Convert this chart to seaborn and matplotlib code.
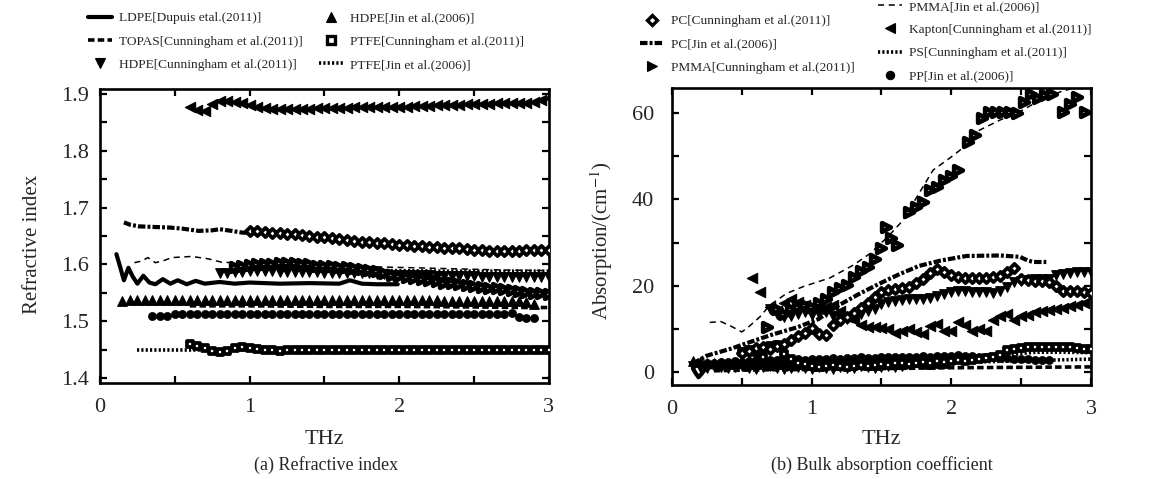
import matplotlib
matplotlib.use("Agg")
import matplotlib.pyplot as plt
from matplotlib.lines import Line2D
import seaborn as sns

sns.set_style("ticks")
plt.rcParams["font.family"] = ["Liberation Serif", "DejaVu Serif"]
plt.rcParams["mathtext.fontset"] = "stix"

# ---------------- data ----------------
FREQ = [0.10, 0.15, 0.20, 0.25, 0.30, 0.35, 0.40, 0.45, 0.50, 0.55,
        0.60, 0.65, 0.70, 0.75, 0.80, 0.85, 0.90, 0.95, 1.00, 1.05,
        1.10, 1.15, 1.20, 1.25, 1.30, 1.35, 1.40, 1.45, 1.50, 1.55,
        1.60, 1.65, 1.70, 1.75, 1.80, 1.85, 1.90, 1.95, 2.00, 2.05,
        2.10, 2.15, 2.20, 2.25, 2.30, 2.35, 2.40, 2.45, 2.50, 2.55,
        2.60, 2.65, 2.70, 2.75, 2.80, 2.85, 2.90, 2.95, 3.00]

# ---- (a) refractive index ----
ldpe_n_x = [0.11, 0.13, 0.16, 0.19, 0.22, 0.25, 0.29, 0.33, 0.37, 0.42, 0.47, 0.52, 0.58,
            0.64, 0.70, 0.80, 0.90, 1.00, 1.20, 1.40, 1.60, 1.67, 1.75, 1.85, 1.99]
ldpe_n_y = [1.618, 1.600, 1.572, 1.594, 1.578, 1.566, 1.580, 1.568, 1.565, 1.574, 1.566, 1.572, 1.565,
            1.571, 1.566, 1.569, 1.566, 1.568, 1.566, 1.567, 1.566, 1.572, 1.566, 1.565, 1.565]

topas_n_x = [0.60, 1.00, 1.50, 2.00, 2.50, 2.85, 3.00]
topas_n_y = [1.527, 1.527, 1.526, 1.526, 1.525, 1.524, 1.524]

hdpe_c_n_start = 0.80
hdpe_c_n = [1.584, 1.585, 1.586, 1.587, 1.588, 1.588, 1.588, 1.588, 1.587, 1.587,
            1.587, 1.586, 1.586, 1.586, 1.585, 1.585, 1.585, 1.585, 1.584, 1.584,
            1.584, 1.583, 1.583, 1.582, 1.582, 1.582, 1.581, 1.581, 1.581, 1.580,
            1.580, 1.580, 1.579, 1.579, 1.579, 1.578, 1.578, 1.578, 1.578, 1.577,
            1.577, 1.577, 1.577, 1.577, 1.577]

hdpe_j_n_start = 0.15
hdpe_j_n = [1.536, 1.537, 1.537, 1.537, 1.537, 1.537, 1.537, 1.537, 1.537, 1.537,
            1.537, 1.537, 1.537, 1.537, 1.537, 1.537, 1.537, 1.537, 1.537, 1.537,
            1.537, 1.537, 1.537, 1.537, 1.537, 1.537, 1.537, 1.537, 1.537, 1.537,
            1.537, 1.537, 1.537, 1.537, 1.537, 1.537, 1.537, 1.537, 1.537, 1.537,
            1.537, 1.537, 1.537, 1.536, 1.536, 1.536, 1.536, 1.536, 1.536, 1.536,
            1.536, 1.536, 1.535, 1.535, 1.534, 1.531]

ptfe_c_n_start = 0.60
ptfe_c_n = [1.459, 1.456, 1.452, 1.448, 1.446, 1.447, 1.452, 1.454, 1.453, 1.451,
            1.450, 1.449, 1.448, 1.449, 1.449, 1.449, 1.449, 1.449, 1.449, 1.449,
            1.449, 1.449, 1.449, 1.449, 1.449, 1.449, 1.449, 1.449, 1.449, 1.449,
            1.449, 1.449, 1.449, 1.449, 1.449, 1.449, 1.449, 1.449, 1.449, 1.449,
            1.449, 1.449, 1.449, 1.449, 1.449, 1.450, 1.450, 1.450, 1.450]

ptfe_j_n_x = [0.25, 0.40, 0.60, 0.80, 1.00, 2.00, 3.00]
ptfe_j_n_y = [1.449, 1.449, 1.449, 1.449, 1.449, 1.449, 1.449]

pc_c_n_start = 1.00
pc_c_n = [1.659, 1.658, 1.657, 1.656, 1.655, 1.654, 1.653, 1.651, 1.650, 1.649,
          1.648, 1.646, 1.645, 1.643, 1.642, 1.640, 1.639, 1.638, 1.637, 1.636,
          1.635, 1.634, 1.633, 1.632, 1.631, 1.630, 1.629, 1.629, 1.628, 1.627,
          1.626, 1.625, 1.624, 1.623, 1.623, 1.624, 1.624, 1.625, 1.625, 1.626, 1.626]

pc_j_n_x = [0.16, 0.20, 0.26, 0.35, 0.46, 0.55, 0.66, 0.75, 0.80, 0.88, 0.95, 1.05,
            1.30, 1.60, 1.90, 2.20, 2.50, 2.70]
pc_j_n_y = [1.674, 1.670, 1.667, 1.666, 1.665, 1.663, 1.659, 1.660, 1.662, 1.659, 1.656, 1.655,
            1.650, 1.643, 1.635, 1.629, 1.625, 1.623]

pmma_c_n_start = 0.90
pmma_c_n = [1.596, 1.598, 1.599, 1.600, 1.601, 1.601, 1.602, 1.603, 1.602, 1.601,
            1.600, 1.598, 1.597, 1.597, 1.596, 1.595, 1.594, 1.592, 1.590, 1.588,
            1.585, 1.582, 1.580, 1.578, 1.576, 1.574, 1.572, 1.570, 1.568, 1.567,
            1.565, 1.564, 1.562, 1.561, 1.559, 1.558, 1.556, 1.555, 1.553, 1.552,
            1.550, 1.549, 1.547]

pmma_j_n_x = [0.23, 0.28, 0.32, 0.37, 0.42, 0.48, 0.55, 0.61, 0.72, 0.81, 0.96,
              1.20, 1.50, 1.80, 2.10, 2.40, 2.70, 3.00]
pmma_j_n_y = [1.603, 1.606, 1.612, 1.603, 1.606, 1.612, 1.613, 1.614, 1.610, 1.604, 1.602,
              1.600, 1.598, 1.596, 1.594, 1.592, 1.590, 1.589]

kapton_n_start = 0.60
kapton_n = [1.877, 1.872, 1.870, 1.882, 1.887, 1.888, 1.886, 1.884, 1.881, 1.878,
            1.876, 1.874, 1.873, 1.873, 1.873, 1.874, 1.874, 1.875, 1.875, 1.876,
            1.876, 1.876, 1.877, 1.877, 1.877, 1.877, 1.878, 1.878, 1.878, 1.878,
            1.879, 1.879, 1.879, 1.880, 1.880, 1.881, 1.881, 1.882, 1.882, 1.883,
            1.883, 1.884, 1.884, 1.884, 1.885, 1.885, 1.886, 1.890, 1.894]

ps_c_n_x = [0.90, 1.50, 1.96, 2.30, 2.60, 3.00]
ps_c_n_y = [1.594, 1.592, 1.589, 1.588, 1.588, 1.588]

pp_j_n_start = 0.35
pp_j_n = [1.509, 1.509, 1.509, 1.512, 1.512, 1.512, 1.512, 1.512, 1.512, 1.512,
          1.512, 1.512, 1.512, 1.512, 1.512, 1.512, 1.512, 1.512, 1.512, 1.512,
          1.512, 1.512, 1.512, 1.512, 1.512, 1.512, 1.512, 1.512, 1.512, 1.512,
          1.512, 1.512, 1.512, 1.512, 1.512, 1.512, 1.512, 1.512, 1.512, 1.512,
          1.512, 1.512, 1.512, 1.512, 1.512, 1.512, 1.512, 1.512, 1.514, 1.507,
          1.506, 1.506]

# ---- (b) absorption coefficient ----
ldpe_a_x = [0.15, 0.17, 0.19, 0.21, 0.24, 0.28, 0.35, 0.45, 0.55, 0.70, 0.85, 1.00,
            1.20, 1.40, 1.60, 1.80, 2.00]
ldpe_a_y = [0.8, -0.3, -1.2, -0.5, 0.8, 1.2, 1.0, 1.3, 1.1, 1.4, 1.2, 1.5,
            1.6, 1.9, 2.1, 2.4, 2.6]

topas_a_x = [0.30, 0.60, 1.00, 1.50, 2.00, 2.50, 3.00]
topas_a_y = [0.3, 0.5, 0.6, 0.8, 1.0, 1.1, 1.2]

hdpe_c_a_lo_start = 0.15
hdpe_c_a_lo = [1.5, 1.2, 1.0, 1.3, 1.1, 0.9, 1.2, 1.4, 1.0, 0.8,
               1.1, 1.3, 0.9, 0.7, 1.0, 1.2, 0.9, 0.8, 1.1, 1.0,
               0.8, 1.2, 1.0, 0.9, 1.3, 1.1, 0.9, 1.2, 1.4, 1.1, 1.3]
hdpe_c_a_hi_start = 0.70
hdpe_c_a_hi = [14.6, 13.5, 12.7, 13.0, 13.5, 13.8, 13.2, 13.5, 14.0, 13.0,
               12.5, 12.3, 12.7, 13.5, 14.2, 14.6, 15.8, 16.3, 16.5, 16.8,
               17.0, 16.9, 16.9, 17.2, 17.7, 18.0, 18.5, 18.8, 18.8, 18.6,
               18.5, 18.5, 18.2, 18.8, 19.6, 20.8, 21.2, 21.3, 21.5, 21.6,
               21.5, 22.5, 22.7, 23.0, 23.1, 23.1, 23.1]

hdpe_j_a_start = 0.15
hdpe_j_a = [2.6, 2.4, 2.2, 2.0, 2.1, 1.9, 2.0, 2.2, 1.8, 1.9,
            2.1, 1.7, 1.8, 2.0, 1.6, 1.8, 1.9, 1.7, 1.5, 1.8,
            2.0, 1.7, 1.6, 1.9, 2.1, 1.8, 1.7, 2.0, 2.2, 1.9,
            1.8, 2.1, 2.3, 2.0, 1.9, 2.2, 2.0]

ptfe_c_a_start = 0.50
ptfe_c_a = [4.6, 5.0, 4.6, 3.5, 6.0, 6.2, 4.2, 3.0, 2.2, 1.8,
            1.5, 1.2, 1.4, 1.6, 1.3, 1.1, 1.5, 1.7, 1.4, 1.6,
            1.9, 1.7, 2.0, 2.2, 1.9, 2.1, 2.4, 2.2, 2.5, 2.3,
            2.6, 2.8, 2.6, 2.9, 3.0, 3.2, 3.5, 4.0, 5.0, 5.4,
            5.5, 5.8, 5.8, 5.9, 5.9, 5.8, 5.8, 5.7, 5.6, 5.4, 5.3]

ptfe_j_a_x = [0.25, 0.50, 1.00, 1.50, 2.00, 2.50, 3.00]
ptfe_j_a_y = [1.0, 1.2, 1.5, 1.8, 2.2, 2.6, 3.0]

pc_c_a_start = 0.50
pc_c_a = [4.4, 4.8, 5.6, 5.8, 5.4, 6.0, 6.5, 7.5, 8.3, 9.0,
          10.2, 8.8, 8.5, 11.0, 12.0, 12.8, 13.6, 14.8, 16.0, 17.4,
          18.5, 19.0, 19.2, 19.4, 19.8, 20.6, 21.6, 23.0, 23.8, 23.2,
          22.5, 22.1, 21.9, 21.9, 21.9, 21.9, 22.0, 22.3, 23.2, 24.2,
          21.6, 21.3, 21.2, 21.0, 20.8, 20.0, 18.8, 18.8, 18.8, 18.6, 18.2]

pc_j_a_x = [0.15, 0.25, 0.42, 0.59, 0.73, 0.90, 1.05, 1.19, 1.34, 1.48, 1.63, 1.77,
            1.92, 2.11, 2.35, 2.49, 2.55, 2.59, 2.68]
pc_j_a_y = [2.0, 3.8, 5.4, 7.3, 8.8, 10.4, 12.3, 15.4, 18.1, 20.4, 22.7, 24.6,
            25.8, 26.9, 27.0, 26.7, 25.8, 25.5, 25.5]

pmma_c_a_x = [0.68, 0.75, 0.80, 0.85, 0.90, 0.95, 1.00, 1.05, 1.10, 1.15,
              1.20, 1.25, 1.30, 1.35, 1.40, 1.45, 1.50, 1.53, 1.57, 1.61,
              1.70, 1.75, 1.80, 1.85, 1.90, 1.95, 2.00, 2.05, 2.12, 2.17,
              2.22, 2.27, 2.32, 2.37, 2.42, 2.47, 2.52, 2.57, 2.62, 2.67,
              2.72, 2.80, 2.85, 2.90, 2.96]
pmma_c_a_y = [10.5, 14.5, 13.5, 14.5, 15.0, 15.5, 15.0, 16.0, 17.0, 18.6,
              19.5, 20.1, 22.0, 23.5, 24.3, 26.3, 28.8, 33.7, 31.0, 29.4,
              37.1, 38.3, 39.4, 42.2, 42.9, 44.5, 45.5, 46.8, 53.3, 54.9,
              58.8, 60.3, 60.3, 60.3, 60.3, 60.0, 62.6, 64.5, 63.4, 64.2,
              64.5, 60.3, 62.2, 63.8, 60.3]

pmma_j_a_x = [0.27, 0.35, 0.43, 0.50, 0.55, 0.63, 0.70, 0.82, 0.94, 1.13, 1.30, 1.42,
              1.55, 1.65, 1.78, 1.87, 1.99, 2.11, 2.20, 2.35, 2.51, 2.66, 2.78, 2.95]
pmma_j_a_y = [11.5, 11.7, 10.5, 9.3, 10.5, 12.8, 15.5, 18.2, 19.8, 21.8, 24.8, 27.5,
              31.5, 35.0, 42.0, 46.8, 49.6, 52.6, 56.0, 58.4, 60.7, 63.4, 64.9, 66.5]

kapton_a_x = [0.57, 0.63, 0.70, 0.75, 0.80, 0.85, 0.90, 0.95, 1.00, 1.05,
              1.10, 1.15, 1.20, 1.25, 1.30, 1.35, 1.40, 1.45, 1.50, 1.55,
              1.60, 1.65, 1.70, 1.75, 1.80, 1.85, 1.90, 1.95, 2.00, 2.05,
              2.10, 2.15, 2.20, 2.25, 2.30, 2.35, 2.40, 2.45, 2.50, 2.55,
              2.60, 2.65, 2.70, 2.75, 2.80, 2.85, 2.90, 2.95]
kapton_a_y = [21.9, 18.5, 15.0, 14.2, 16.0, 16.9, 16.2, 15.5, 15.0, 14.5,
              15.0, 15.5, 14.2, 12.7, 12.0, 11.0, 10.5, 10.4, 10.2, 9.9,
              9.0, 9.6, 9.9, 9.3, 8.8, 10.7, 11.2, 9.5, 9.4, 11.5,
              10.8, 9.4, 10.0, 9.6, 12.0, 13.0, 13.5, 12.0, 13.0, 13.3,
              14.0, 14.2, 14.4, 14.6, 14.8, 15.2, 15.6, 16.0]

ps_c_a_x = [0.20, 0.50, 1.00, 1.50, 2.00, 2.40, 2.50, 2.60, 2.80, 3.00]
ps_c_a_y = [1.5, 2.0, 2.5, 3.0, 3.3, 3.8, 4.3, 4.6, 4.6, 4.5]

pp_j_a_start = 0.20
pp_j_a = [2.0, 2.1, 2.2, 2.3, 2.4, 2.5, 2.4, 2.6, 2.7, 2.6,
          2.8, 2.7, 2.9, 2.8, 3.0, 2.9, 3.0, 3.1, 3.0, 3.2,
          3.1, 3.3, 3.2, 3.4, 3.3, 3.2, 3.4, 3.5, 3.4, 3.6,
          3.5, 3.6, 3.7, 3.6, 3.8, 3.7, 3.8, 3.9, 3.8, 3.7,
          3.6, 3.5, 3.4, 3.3, 3.2, 3.1, 3.0, 3.0, 2.9, 2.9, 2.8]

LABELS = {
    "ldpe": "LDPE[Dupuis etal.(2011)]",
    "topas": "TOPAS[Cunningham et al.(2011)]",
    "hdpe_c": "HDPE[Cunningham et al.(2011)]",
    "hdpe_j": "HDPE[Jin et al.(2006)]",
    "ptfe_c": "PTFE[Cunningham et al.(2011)]",
    "ptfe_j": "PTFE[Jin et al.(2006)]",
    "pc_c": "PC[Cunningham et al.(2011)]",
    "pc_j": "PC[Jin et al.(2006)]",
    "pmma_c": "PMMA[Cunningham et al.(2011)]",
    "pmma_j": "PMMA[Jin et al.(2006)]",
    "kapton": "Kapton[Cunningham et al.(2011)]",
    "ps_c": "PS[Cunningham et al.(2011)]",
    "pp_j": "PP[Jin et al.(2006)]",
}


def on_grid(start, values):
    keys = [round(f, 2) for f in FREQ]
    i = keys.index(round(start, 2))
    return FREQ[i:i + len(values)]


# ---------------- styles ----------------
K = "black"
LINE = {
    "ldpe": dict(lw=3.0, ls="-"),
    "topas": dict(lw=2.6, ls=(0, (1.8, 0.9))),
    "ptfe_j": dict(lw=2.6, ls=(0, (0.6, 0.6))),
    "ps_c": dict(lw=2.6, ls=(0, (0.6, 0.6))),
    "pc_j": dict(lw=3.0, ls=(0, (1.8, 0.5, 0.7, 0.5))),
    "pmma_j": dict(lw=1.1, ls=(0, (4.0, 3.0))),
}
MARK = {
    "hdpe_c": dict(marker="v", s=48, color=K, edgecolor=K, linewidth=0.8),
    "hdpe_j": dict(marker="^", s=48, color=K, edgecolor=K, linewidth=0.8),
    "ptfe_c": dict(marker="s", s=22, color="white", edgecolor=K, linewidth=2.7),
    "pc_c": dict(marker="D", s=22, color="white", edgecolor=K, linewidth=2.7),
    "pmma_c": dict(marker=">", s=40, color="white", edgecolor=K, linewidth=3.3),
    "kapton": dict(marker="<", s=55, color=K, edgecolor=K, linewidth=0.8),
    "pp_j": dict(marker="o", s=34, color=K, edgecolor=K, linewidth=0.5),
}
LEG_MS = {"hdpe_c": 7.5, "hdpe_j": 7.5, "ptfe_c": 5.5, "pc_c": 5.5,
          "pmma_c": 7.5, "kapton": 7.5, "pp_j": 6.0}


def line(ax, key, x, y):
    sns.lineplot(x=x, y=y, ax=ax, color=K, sort=False, estimator=None,
                 linewidth=LINE[key]["lw"], linestyle=LINE[key]["ls"], zorder=2)


def mark(ax, key, x, y):
    sns.scatterplot(x=x, y=y, ax=ax, zorder=3, legend=False, **MARK[key])


fig = plt.figure(figsize=(11.61, 4.79), dpi=100)
ax1 = fig.add_axes([0.0861, 0.2004, 0.3867, 0.6138])
ax2 = fig.add_axes([0.5788, 0.1962, 0.3609, 0.6201])

# ---- panel (a)
line(ax1, "ptfe_j", ptfe_j_n_x, ptfe_j_n_y)
line(ax1, "topas", topas_n_x, topas_n_y)
line(ax1, "pc_j", pc_j_n_x, pc_j_n_y)
line(ax1, "pmma_j", pmma_j_n_x, pmma_j_n_y)
line(ax1, "ps_c", ps_c_n_x, ps_c_n_y)
line(ax1, "ldpe", ldpe_n_x, ldpe_n_y)
mark(ax1, "kapton", on_grid(kapton_n_start, kapton_n), kapton_n)
mark(ax1, "pc_c", on_grid(pc_c_n_start, pc_c_n), pc_c_n)
mark(ax1, "hdpe_c", on_grid(hdpe_c_n_start, hdpe_c_n), hdpe_c_n)
mark(ax1, "pmma_c", on_grid(pmma_c_n_start, pmma_c_n), pmma_c_n)
mark(ax1, "hdpe_j", on_grid(hdpe_j_n_start, hdpe_j_n), hdpe_j_n)
mark(ax1, "pp_j", on_grid(pp_j_n_start, pp_j_n), pp_j_n)
mark(ax1, "ptfe_c", on_grid(ptfe_c_n_start, ptfe_c_n), ptfe_c_n)

# ---- panel (b)
line(ax2, "topas", topas_a_x, topas_a_y)
line(ax2, "ptfe_j", ptfe_j_a_x, ptfe_j_a_y)
line(ax2, "ps_c", ps_c_a_x, ps_c_a_y)
line(ax2, "ldpe", ldpe_a_x, ldpe_a_y)
line(ax2, "pc_j", pc_j_a_x, pc_j_a_y)
line(ax2, "pmma_j", pmma_j_a_x, pmma_j_a_y)
mark(ax2, "pp_j", on_grid(pp_j_a_start, pp_j_a), pp_j_a)
mark(ax2, "hdpe_j", on_grid(hdpe_j_a_start, hdpe_j_a), hdpe_j_a)
mark(ax2, "hdpe_c", on_grid(hdpe_c_a_lo_start, hdpe_c_a_lo), hdpe_c_a_lo)
mark(ax2, "ptfe_c", on_grid(ptfe_c_a_start, ptfe_c_a), ptfe_c_a)
mark(ax2, "hdpe_c", on_grid(hdpe_c_a_hi_start, hdpe_c_a_hi), hdpe_c_a_hi)
mark(ax2, "kapton", kapton_a_x, kapton_a_y)
mark(ax2, "pc_c", on_grid(pc_c_a_start, pc_c_a), pc_c_a)
mark(ax2, "pmma_c", pmma_c_a_x, pmma_c_a_y)

# ---- axes cosmetics
for ax in (ax1, ax2):
    ax.set_xlim(0, 3)
    ax.set_xticks([0, 1, 2, 3])
    ax.set_xticks([0.5, 1.5, 2.5], minor=True)
    ax.tick_params(which="both", direction="in", top=True, right=True,
                   length=5, width=1.6, labelsize=16, color=K)
    ax.tick_params(axis="x", pad=10.5)
    for sp in ax.spines.values():
        sp.set_linewidth(1.9)
        sp.set_color(K)
    ax.set_xlabel("THz", fontsize=16)

ax1.set_ylim(1.391, 1.909)
ax1.set_yticks([1.4, 1.5, 1.6, 1.7, 1.8, 1.9])
ax1.set_yticklabels(["1.4", "1.5", "1.6", "1.7", "1.8", "1.9"])
ax1.set_yticks([1.45, 1.55, 1.65, 1.75, 1.85], minor=True)
ax1.tick_params(axis="y", pad=8)
ax1.set_ylabel("Refractive index", fontsize=15)
ax1.yaxis.set_label_coords(-0.130, 0.47)
ax1.xaxis.set_label_coords(0.5, -0.16)

ax2.set_ylim(-3.0, 65.8)
ax2.set_yticks([0, 20, 40, 60])
ax2.set_yticks([10, 30, 50], minor=True)
ax2.tick_params(axis="y", pad=13)
ax2.set_ylabel("Absorption/(cm$^{-1}$)", fontsize=15)
ax2.yaxis.set_label_coords(-0.136, 0.485)
ax2.xaxis.set_label_coords(0.5, -0.152)

fig.text(326.5 / 1161, 1 - 465 / 479, "(a) Refractive index", ha="center", va="center", fontsize=13)
fig.text(882 / 1161, 1 - 465 / 479, "(b) Bulk absorption coefficient", ha="center", va="center", fontsize=13)


# ---- legends
def handle(key):
    if key in LINE:
        return Line2D([], [], color=K, lw=LINE[key]["lw"], ls=LINE[key]["ls"])
    m = MARK[key]
    face = m["color"] if key in ("ptfe_c", "pc_c") else K
    return Line2D([], [], ls="none", marker=m["marker"], markersize=LEG_MS[key],
                  markerfacecolor=face, markeredgecolor=K,
                  markeredgewidth=2.4 if face == "white" else 0.8)


leg_kw = dict(frameon=False, fontsize=9.6, handlelength=1.8, handletextpad=0.5,
              labelspacing=0.82, borderpad=0, borderaxespad=0, columnspacing=1.25)

keys_a = ["ldpe", "topas", "hdpe_c", "hdpe_j", "ptfe_c", "ptfe_j"]
lg1 = fig.legend([handle(k) for k in keys_a], [LABELS[k] for k in keys_a], ncol=2,
                 loc="upper left", bbox_to_anchor=(88 / 1161, 1 - 12 / 479), **leg_kw)
keys_b = ["pc_c", "pc_j", "pmma_c"]
lg2 = fig.legend([handle(k) for k in keys_b], [LABELS[k] for k in keys_b], ncol=1,
                 loc="upper left", bbox_to_anchor=(640 / 1161, 1 - 15 / 479), **leg_kw)
keys_c = ["pmma_j", "kapton", "ps_c", "pp_j"]
lg3 = fig.legend([handle(k) for k in keys_c], [LABELS[k] for k in keys_c], ncol=1,
                 loc="upper left", bbox_to_anchor=(878 / 1161, 1 - 0.5 / 479), **leg_kw)

fig.savefig("out.png", dpi=100)
